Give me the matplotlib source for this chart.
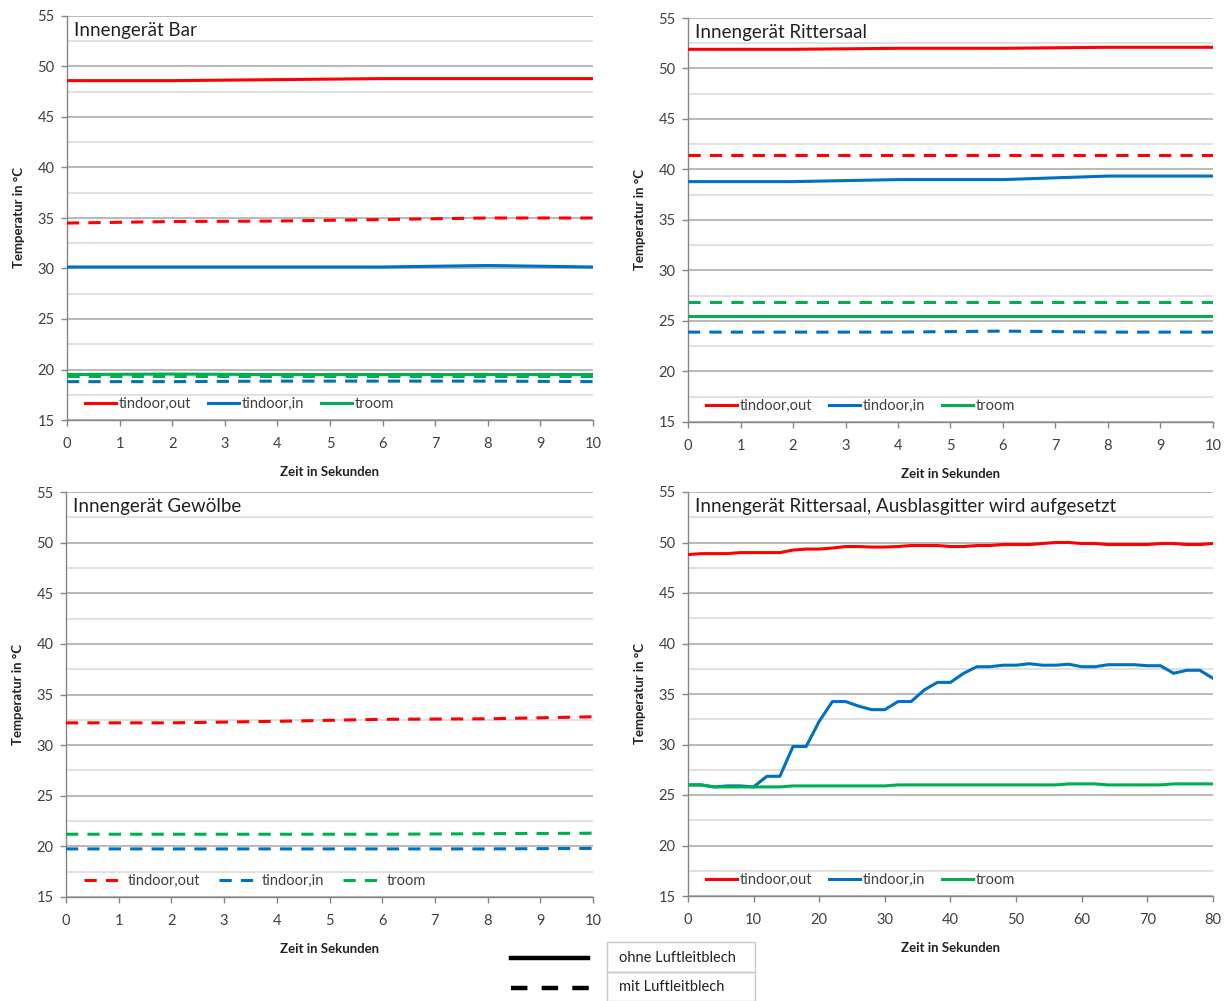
import matplotlib
matplotlib.use("Agg")
import matplotlib.pyplot as plt
from matplotlib.lines import Line2D
from matplotlib.patches import Rectangle
from matplotlib.ticker import MultipleLocator

plt.rcParams['font.family'] = ['Lato', 'DejaVu Sans']

# ---------------- data ----------------
x10 = [0, 2, 4, 6, 8, 10]

# Innengerät Bar
bar_out_solid = [48.6, 48.6, 48.7, 48.8, 48.8, 48.8]
bar_in_solid = [30.15, 30.15, 30.15, 30.15, 30.3, 30.15]
bar_room_solid = [19.5, 19.55, 19.5, 19.5, 19.5, 19.5]
bar_out_dash = [34.5, 34.65, 34.7, 34.85, 35.0, 35.0]
bar_in_dash = [18.8, 18.8, 18.85, 18.85, 18.85, 18.8]
bar_room_dash = [19.35, 19.35, 19.35, 19.35, 19.35, 19.35]

# Innengerät Rittersaal
rit_out_solid = [51.9, 51.9, 52.0, 52.0, 52.1, 52.1]
rit_in_solid = [38.8, 38.8, 39.0, 39.0, 39.35, 39.35]
rit_room_solid = [25.5, 25.5, 25.5, 25.5, 25.5, 25.5]
rit_out_dash = [41.4, 41.4, 41.4, 41.4, 41.4, 41.4]
rit_in_dash = [23.9, 23.9, 23.9, 24.0, 23.9, 23.9]
rit_room_dash = [26.9, 26.9, 26.9, 26.9, 26.9, 26.9]

# Innengerät Gewölbe (nur mit Luftleitblech)
gew_out_dash = [32.2, 32.2, 32.35, 32.55, 32.6, 32.8]
gew_in_dash = [19.75, 19.75, 19.75, 19.75, 19.75, 19.8]
gew_room_dash = [21.2, 21.2, 21.2, 21.2, 21.25, 21.3]

# Innengerät Rittersaal, Ausblasgitter wird aufgesetzt
x80 = list(range(0, 81, 2))
gitter_out = [48.8, 48.9, 48.9, 48.9, 49.0, 49.0, 49.0, 49.0, 49.25, 49.35,
              49.35, 49.45, 49.6, 49.6, 49.55, 49.55, 49.6, 49.7, 49.7, 49.7,
              49.6, 49.6, 49.7, 49.7, 49.8, 49.8, 49.8, 49.9, 50.0, 50.0,
              49.9, 49.9, 49.8, 49.8, 49.8, 49.8, 49.9, 49.9, 49.8, 49.8, 49.9]
gitter_in = [26.0, 26.0, 25.8, 25.9, 25.9, 25.8, 26.85, 26.85, 29.8, 29.8,
             32.3, 34.25, 34.25, 33.8, 33.45, 33.45, 34.25, 34.25, 35.4, 36.15,
             36.15, 37.05, 37.7, 37.7, 37.85, 37.85, 38.0, 37.85, 37.85, 37.95,
             37.7, 37.7, 37.9, 37.9, 37.9, 37.8, 37.8, 37.05, 37.35, 37.35, 36.55]
gitter_room = [26.0, 26.0, 25.8, 25.8, 25.8, 25.8, 25.8, 25.8, 25.9, 25.9,
               25.9, 25.9, 25.9, 25.9, 25.9, 25.9, 26.0, 26.0, 26.0, 26.0,
               26.0, 26.0, 26.0, 26.0, 26.0, 26.0, 26.0, 26.0, 26.0, 26.1,
               26.1, 26.1, 26.0, 26.0, 26.0, 26.0, 26.0, 26.1, 26.1, 26.1, 26.1]

series_names = ['tindoor,out', 'tindoor,in', 'troom']
titles = ['Innengerät Bar', 'Innengerät Rittersaal', 'Innengerät Gewölbe',
          'Innengerät Rittersaal, Ausblasgitter wird aufgesetzt']
legend_labels = ['ohne Luftleitblech', 'mit Luftleitblech']
xlabel = 'Zeit in Sekunden'
ylabel = 'Temperatur in °C'

RED, BLUE, GREEN = '#FF0000', '#0070C0', '#00B050'
colors = [RED, BLUE, GREEN]
LW = 2.2
DASH = (4.0, 3.0)

W, H = 1229, 1001
fig = plt.figure(figsize=(W / 100, H / 100), dpi=100)


def ax_at(l, r, t, b):
    return fig.add_axes([l / W, 1 - b / H, (r - l) / W, (b - t) / H])


def style(ax, xmax, xstep, title):
    ax.set_xlim(0, xmax)
    ax.set_ylim(15, 55)
    ax.yaxis.set_major_locator(MultipleLocator(5))
    ax.yaxis.set_minor_locator(MultipleLocator(2.5))
    ax.xaxis.set_major_locator(MultipleLocator(xstep))
    ax.grid(True, which='minor', axis='y', color='#D9D9D9', lw=1.1, zorder=0)
    ax.grid(True, which='major', axis='y', color='#A6A6A6', lw=1.1, zorder=0)
    ax.tick_params(axis='y', which='minor', length=0)
    ax.tick_params(axis='both', which='major', direction='out', length=4,
                   width=1, color='#868686', labelsize=10.5, labelcolor='#404040')
    ax.tick_params(axis='x', pad=8)
    ax.tick_params(axis='y', pad=5)
    for s in ['top', 'right']:
        ax.spines[s].set_visible(False)
    for s in ['left', 'bottom']:
        ax.spines[s].set_color('#868686')
        ax.spines[s].set_linewidth(1.0)
    ax.set_axisbelow(True)
    ax.set_xlabel(xlabel, fontsize=9.5, fontweight='bold', color='#222222', labelpad=11)
    ax.set_ylabel(ylabel, fontsize=9.5, fontweight='bold', color='#222222', labelpad=9)
    ax.text(0.013, 0.985, title, transform=ax.transAxes, fontsize=13.5,
            color='#222222', va='top', ha='left')


def legend(ax, dashed=False):
    if dashed:
        handles = [Line2D([], [], color=c, lw=LW, dashes=DASH) for c in colors]
        tp, cs, hl = 0.55, 1.3, 2.4
    else:
        handles = [Line2D([], [], color=c, lw=LW) for c in colors]
        tp, cs, hl = 0.2, 1.15, 2.1
    ax.legend(handles, series_names, loc='lower left', bbox_to_anchor=(0.01, -0.01),
              ncol=3, frameon=False, fontsize=10.5, handlelength=hl,
              handletextpad=tp, columnspacing=cs, labelcolor='#404040')


# Panel 1
ax1 = ax_at(67, 593, 16, 420)
style(ax1, 10, 1, titles[0])
for ys, c in zip([bar_out_solid, bar_in_solid, bar_room_solid], colors):
    ax1.plot(x10, ys, color=c, lw=LW, zorder=3)
for ys, c in zip([bar_out_dash, bar_in_dash, bar_room_dash], colors):
    ax1.plot(x10, ys, color=c, lw=LW, dashes=DASH, zorder=3)
legend(ax1)

# Panel 2
ax2 = ax_at(688, 1213, 18, 422)
style(ax2, 10, 1, titles[1])
for ys, c in zip([rit_out_solid, rit_in_solid, rit_room_solid], colors):
    ax2.plot(x10, ys, color=c, lw=LW, zorder=3)
for ys, c in zip([rit_out_dash, rit_in_dash, rit_room_dash], colors):
    ax2.plot(x10, ys, color=c, lw=LW, dashes=DASH, zorder=3)
legend(ax2)

# Panel 3
ax3 = ax_at(66, 593, 492, 897)
style(ax3, 10, 1, titles[2])
for ys, c in zip([gew_out_dash, gew_in_dash, gew_room_dash], colors):
    ax3.plot(x10, ys, color=c, lw=LW, dashes=DASH, zorder=3)
legend(ax3, dashed=True)

# Panel 4
ax4 = ax_at(688, 1213, 492, 896)
style(ax4, 80, 10, titles[3])
for ys, c in zip([gitter_out, gitter_in, gitter_room], colors):
    ax4.plot(x80, ys, color=c, lw=LW, zorder=3)
legend(ax4)

# Bottom legend (line style meaning)
fig.add_artist(Line2D([511 / W, 588 / W], [1 - 958 / H, 1 - 958 / H], color='black', lw=3.2))
fig.add_artist(Line2D([511 / W, 590 / W], [1 - 988 / H, 1 - 988 / H], color='black', lw=3.2,
                      dashes=(3.7, 3.2)))
for i, lab in enumerate(legend_labels):
    top = 942 + i * 29.5
    fig.add_artist(Rectangle((607 / W, 1 - (top + 29.5) / H), 148 / W, 29.5 / H,
                             transform=fig.transFigure, fill=False, ec='#C8C8C8', lw=1))
    fig.text(619 / W, 1 - (top + 15.5) / H, lab, fontsize=10.5, color='#222222',
             va='center', ha='left')

fig.savefig('out.png', dpi=100, facecolor='white')
